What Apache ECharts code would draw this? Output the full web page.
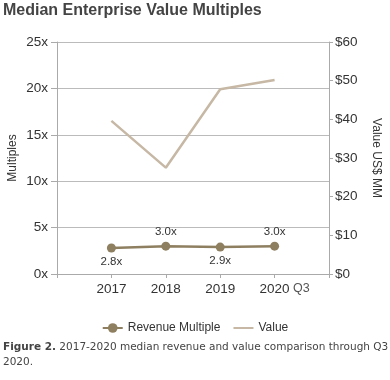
<!DOCTYPE html>
<html>
<head>
<meta charset="utf-8">
<script src="https://cdn.jsdelivr.net/npm/echarts@6/dist/echarts.min.js"></script>
<style>
html,body{margin:0;padding:0;background:#fff;}
#c{width:390px;height:380px;}
</style>
</head>
<body>
<div id="c"></div>
<script>
const categories = ['2017', '2018', '2019', '2020 Q3'];
const revenueMultiple = [2.8, 3.0, 2.9, 3.0];
const valueMM = [39.6, 27.5, 47.8, 50.2];
const leftTicks = [0, 5, 10, 15, 20, 25];
const rightTicks = [0, 10, 20, 30, 40, 50, 60];

const FONT = '"Liberation Sans", Arial, sans-serif';
const CAP = '"DejaVu Sans", Verdana, sans-serif';
const chart = echarts.init(document.getElementById('c'), null, {renderer: 'canvas'});

// pad categories with an empty slot at each end
const xData = [''].concat(categories, ['']);
const pad = arr => [null].concat(arr, [null]);

const option = {
  animation: false,
  title: [
    {
      text: 'Median Enterprise Value Multiples',
      left: 3, top: 3, padding: 0,
      textStyle: {fontFamily: FONT, fontSize: 16, fontWeight: 'bold', color: '#444'}
    },
    {
      text: '{b|Figure 2.} 2017-2020 median revenue and value comparison through Q3\n2020.',
      left: 3, top: 340, padding: 0,
      textStyle: {
        fontFamily: CAP, fontSize: 10.5, fontWeight: 'normal', color: '#444', lineHeight: 15,
        rich: {b: {fontFamily: CAP, fontSize: 10.5, fontWeight: 'bold', color: '#444', lineHeight: 15}}
      }
    }
  ],
  legend: {
    top: 317, left: 'center',
    itemWidth: 20, itemHeight: 12, itemGap: 12,
    textStyle: {fontFamily: FONT, fontSize: 12, color: '#333'},
    data: [
      {name: 'Revenue Multiple'},
      {name: 'Value', itemStyle: {opacity: 0}}
    ]
  },
  grid: {left: 57, right: 61, top: 42, bottom: 106, containLabel: false, outerBoundsMode: 'none'},
  xAxis: {
    type: 'category',
    data: xData,
    boundaryGap: false,
    axisLine: {show: true, lineStyle: {color: '#aaa', width: 1}},
    axisTick: {show: true, length: 4, lineStyle: {color: '#aaa'}},
    axisLabel: {
      fontFamily: FONT, fontSize: 13.5, color: '#333', margin: 8,
      interval: 0,
      formatter: function (v) {
        if (v.indexOf(' ') > 0) {
          const parts = v.split(' ');
          return '{h|' + parts[1] + ' }' + parts[0] + '{q| ' + parts[1] + '}';
        }
        return v;
      },
      rich: {
        h: {fontFamily: FONT, fontSize: 12.5, color: 'rgba(0,0,0,0)'},
        q: {fontFamily: FONT, fontSize: 12.5, color: '#555'}
      }
    },
    splitLine: {show: false}
  },
  yAxis: [
    {
      type: 'value', min: leftTicks[0], max: leftTicks[leftTicks.length - 1], interval: leftTicks[1] - leftTicks[0],
      name: 'Multiples', nameLocation: 'middle', nameGap: 38, nameRotate: 90, nameMoveOverlap: false,
      nameTextStyle: {fontFamily: FONT, fontSize: 12, color: '#333'},
      axisLine: {show: true, lineStyle: {color: '#aaa', width: 1}},
      axisTick: {show: true, length: 6, lineStyle: {color: '#aaa'}},
      axisLabel: {fontFamily: FONT, fontSize: 13.5, color: '#333', margin: 9, formatter: '{value}x'},
      splitLine: {show: true, lineStyle: {color: '#bbb', width: 1}}
    },
    {
      type: 'value', min: rightTicks[0], max: rightTicks[rightTicks.length - 1], interval: rightTicks[1] - rightTicks[0],
      position: 'right',
      name: 'Value US$ MM', nameLocation: 'middle', nameGap: 41, nameRotate: -90,
      nameTextStyle: {fontFamily: FONT, fontSize: 12, color: '#333'},
      axisLine: {show: true, lineStyle: {color: '#aaa', width: 1}},
      axisTick: {show: true, length: 4, lineStyle: {color: '#aaa'}},
      axisLabel: {fontFamily: FONT, fontSize: 13.5, color: '#333', margin: 6, formatter: '${value}'},
      splitLine: {show: false}
    }
  ],
  series: [
    {
      name: 'Value', type: 'line', yAxisIndex: 1,
      data: pad(valueMM),
      symbol: 'none', showSymbol: false,
      lineStyle: {color: '#C6B8A4', width: 2.5},
      itemStyle: {color: '#C6B8A4'},
      z: 2
    },
    {
      name: 'Revenue Multiple', type: 'line', yAxisIndex: 0,
      data: pad(revenueMultiple).map((v, i) => v === null ? null : {
        value: v,
        label: {position: (i % 2 === 1) ? 'bottom' : 'top', distance: (i % 2 === 1) ? 3 : 4}
      }),
      symbol: 'circle', symbolSize: 9,
      lineStyle: {color: '#8E7F60', width: 2.5},
      itemStyle: {color: '#8E7F60'},
      label: {
        show: true, fontFamily: FONT, fontSize: 11.5, color: '#333',
        formatter: p => Number(p.value).toFixed(1) + 'x'
      },
      z: 3
    }
  ]
};
chart.setOption(option);
</script>
</body>
</html>
